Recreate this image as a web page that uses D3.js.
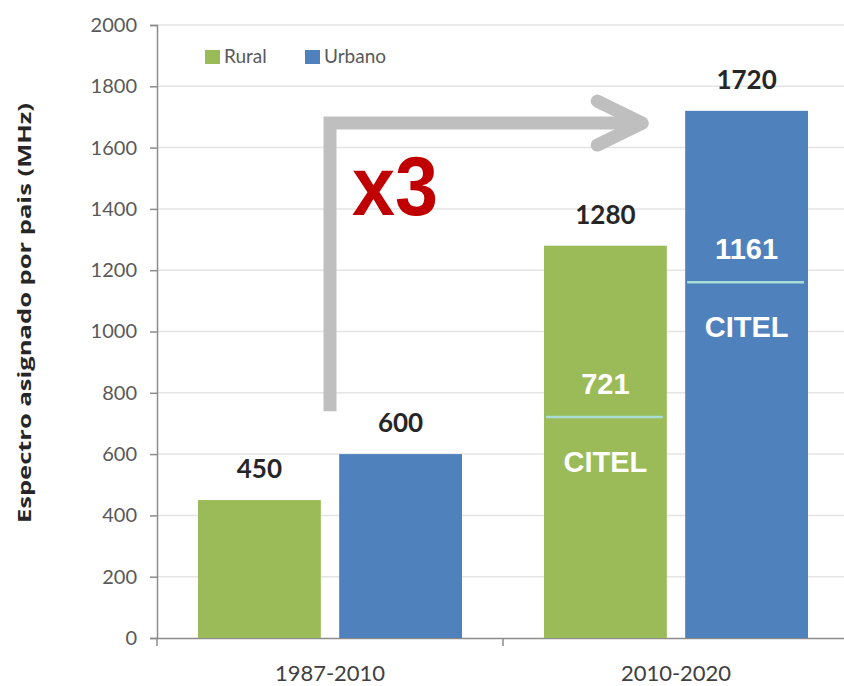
<!DOCTYPE html>
<html>
<head>
<meta charset="utf-8">
<script src="https://cdn.jsdelivr.net/npm/d3@7"></script>
<style>
  body { margin: 0; background: #fff; }
  svg { display: block; }
</style>
</head>
<body>
<div id="chart"></div>
<script>
const categories = ['1987-2010', '2010-2020'];
const series = ['Rural', 'Urbano'];
const rural = [450, 1280];
const urbano = [600, 1720];
// CITEL portion inside the 2010-2020 bars
const citelRural = [null, 721];
const citelUrbano = [null, 1161];
const yTicks = [0, 200, 400, 600, 800, 1000, 1200, 1400, 1600, 1800, 2000];
const yTitle = 'Espectro asignado por pais (MHz)';
const growthLabel = 'x3';
// arrow runs from this value up to this value
const arrowFrom = 740;
const arrowTo = 1680;

const width = 844;
const height = 686;
const colors = { Rural: '#9bbb59', Urbano: '#4f81bd' };

const svg = d3.select('#chart')
  .append('svg')
  .attr('width', width)
  .attr('height', height);

const x = d3.scaleBand()
  .domain(categories)
  .range([157, 849]);

const xs = d3.scaleBand()
  .domain(series)
  .range([41, 305])
  .paddingInner(0.13);

const y = d3.scaleLinear()
  .domain([0, 2000])
  .range([638, 25]);

// grid
svg.append('g')
  .selectAll('line')
  .data(yTicks.slice(1))
  .join('line')
  .attr('x1', 157)
  .attr('x2', 849)
  .attr('y1', d => y(d))
  .attr('y2', d => y(d))
  .attr('stroke', '#e4e4e4')
  .attr('stroke-width', 1.5);

// y axis
const yAxis = svg.append('g')
  .attr('transform', 'translate(157,0)')
  .call(d3.axisLeft(y).tickValues(yTicks).tickFormat(d3.format('d')).tickSize(7).tickPadding(13));
yAxis.select('.domain').attr('stroke', '#8c8c8c').attr('stroke-width', 1.5);
yAxis.selectAll('.tick line').attr('stroke', '#8c8c8c').attr('stroke-width', 1.5);
yAxis.selectAll('text')
  .attr('fill', '#595959')
  .style('font-family', 'Lato, sans-serif')
  .style('font-size', '20px');

// x axis
const xAxis = svg.append('g')
  .attr('transform', 'translate(0,638)')
  .call(d3.axisBottom(x).tickSize(0).tickPadding(27));
xAxis.select('.domain').attr('stroke', '#8c8c8c').attr('stroke-width', 1.5);
xAxis.selectAll('text')
  .attr('fill', '#404040')
  .style('font-family', 'Lato, sans-serif')
  .style('font-size', '22px');
svg.append('g')
  .selectAll('line')
  .data(categories)
  .join('line')
  .attr('x1', d => x(d))
  .attr('x2', d => x(d))
  .attr('y1', 638)
  .attr('y2', 646)
  .attr('stroke', '#8c8c8c')
  .attr('stroke-width', 1.5);

// bars
const rows = [];
categories.forEach((c, i) => {
  rows.push({ cat: c, s: 'Rural', v: rural[i], citel: citelRural[i] });
  rows.push({ cat: c, s: 'Urbano', v: urbano[i], citel: citelUrbano[i] });
});

const bars = svg.append('g')
  .selectAll('g')
  .data(rows)
  .join('g')
  .attr('transform', d => 'translate(' + (x(d.cat) + xs(d.s)) + ',0)');

bars.append('rect')
  .attr('x', 0)
  .attr('width', xs.bandwidth())
  .attr('y', d => y(d.v))
  .attr('height', d => y(0) - y(d.v))
  .attr('fill', d => colors[d.s]);

bars.append('text')
  .attr('x', xs.bandwidth() / 2)
  .attr('y', d => y(d.v) - 22)
  .attr('text-anchor', 'middle')
  .attr('fill', '#262626')
  .style('font-family', 'Lato, sans-serif')
  .style('font-weight', 'bold')
  .style('font-size', '26px')
  .text(d => d.v);

const split = bars.filter(d => d.citel != null);
split.append('line')
  .attr('x1', 2)
  .attr('x2', xs.bandwidth() - 4)
  .attr('y1', d => y(d.citel))
  .attr('y2', d => y(d.citel))
  .attr('stroke', '#a8dcd4')
  .attr('stroke-width', 2.5);
split.append('text')
  .attr('x', xs.bandwidth() / 2)
  .attr('y', d => y(d.citel) - 23)
  .attr('text-anchor', 'middle')
  .attr('fill', '#fff')
  .style('font-family', '"Liberation Sans", Arial, sans-serif')
  .style('font-weight', 'bold')
  .style('font-size', '29px')
  .text(d => d.citel);
split.append('text')
  .attr('x', xs.bandwidth() / 2)
  .attr('y', d => y(d.citel) + 55)
  .attr('text-anchor', 'middle')
  .attr('fill', '#fff')
  .style('font-family', '"Liberation Sans", Arial, sans-serif')
  .style('font-weight', 'bold')
  .style('font-size', '29px')
  .text('CITEL');

// legend
const legend = svg.append('g')
  .selectAll('g')
  .data(series)
  .join('g')
  .attr('transform', (d, i) => 'translate(' + (205 + i * 100) + ',50)');
legend.append('rect')
  .attr('width', 15)
  .attr('height', 14)
  .attr('fill', d => colors[d]);
legend.append('text')
  .attr('x', 19)
  .attr('y', 13)
  .attr('fill', '#595959')
  .style('font-family', 'Lato, sans-serif')
  .style('font-size', '19px')
  .text(d => d);

// y title
svg.append('text')
  .attr('transform', 'translate(31,' + y(1060) + ') rotate(-90)')
  .attr('text-anchor', 'middle')
  .attr('fill', '#262626')
  .style('font-family', '"Open Sans", sans-serif')
  .style('font-weight', 'bold')
  .style('font-size', '18px')
  .attr('textLength', 420)
  .attr('lengthAdjust', 'spacingAndGlyphs')
  .text(yTitle);

// growth arrow
const ax0 = x(categories[0]) + (xs('Rural') + xs.bandwidth() + xs('Urbano')) / 2;
const ax1 = x(categories[1]) + xs('Rural') + xs.bandwidth() * 0.8;
const line = d3.line().x(d => d[0]).y(d => d[1]);
svg.append('path')
  .attr('d', line([[ax0, y(arrowFrom)], [ax0, y(arrowTo)], [ax1, y(arrowTo)]]))
  .attr('fill', 'none')
  .attr('stroke', '#bfbfbf')
  .attr('stroke-width', 13);
svg.append('path')
  .attr('d', line([[ax1 - 45, y(arrowTo) - 22], [ax1, y(arrowTo)], [ax1 - 45, y(arrowTo) + 22]]))
  .attr('fill', 'none')
  .attr('stroke', '#bfbfbf')
  .attr('stroke-width', 13)
  .attr('stroke-linecap', 'round')
  .attr('stroke-linejoin', 'round');

svg.append('text')
  .attr('x', ax0 + 22)
  .attr('y', 215)
  .attr('fill', '#c00000')
  .style('font-family', '"Liberation Sans", Arial, sans-serif')
  .style('font-weight', 'bold')
  .style('font-size', '84px')
  .attr('textLength', 86)
  .attr('lengthAdjust', 'spacingAndGlyphs')
  .text(growthLabel);
</script>
</body>
</html>
